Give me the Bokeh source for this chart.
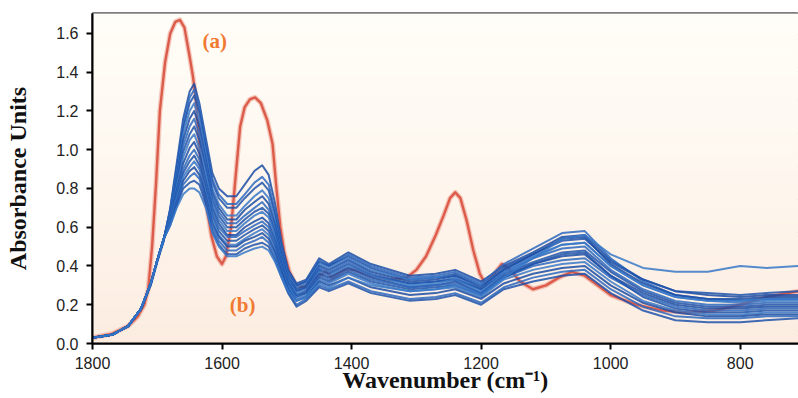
import numpy as np
from bokeh.plotting import figure
from bokeh.models import Range1d, FixedTicker, PrintfTickFormatter
from bokeh.core.properties import value
from bokeh.embed import file_html
from bokeh.resources import INLINE

# ---------------- data ----------------
wavenumber = [1800, 1770, 1745, 1725, 1710, 1700, 1690,
              1680, 1670, 1660, 1650, 1643,
              1635, 1625, 1615, 1605, 1592,
              1578, 1565, 1550, 1538, 1528,
              1518, 1508, 1498, 1485, 1470,
              1450, 1435, 1405, 1370, 1310,
              1270, 1240, 1200, 1165, 1120,
              1075, 1040, 1000, 950, 900,
              850, 800, 760, 710]

blue_spectra = [
    [0.03,0.045,0.09,0.18,0.30,0.42,0.53, 0.70,0.93,1.16,1.30,1.34, 1.24,1.06,0.88,0.80,0.76, 0.76,0.82,0.89,0.92,0.87, 0.72,0.52,0.38,0.31,0.33, 0.44,0.41,0.47,0.41,0.35, 0.36,0.38,0.32,0.40,0.47, 0.55,0.56,0.43,0.33,0.27, 0.25,0.24,0.25,0.25],
    [0.03,0.045,0.09,0.18,0.31,0.43,0.53, 0.69,0.91,1.13,1.27,1.31, 1.22,1.03,0.85,0.77,0.72, 0.72,0.77,0.83,0.86,0.82, 0.68,0.50,0.37,0.30,0.32, 0.43,0.40,0.46,0.40,0.34, 0.35,0.37,0.31,0.41,0.49, 0.57,0.58,0.44,0.32,0.25, 0.23,0.22,0.23,0.23],
    [0.03,0.045,0.09,0.18,0.31,0.43,0.54, 0.69,0.90,1.11,1.24,1.28, 1.19,1.01,0.83,0.75,0.70, 0.70,0.75,0.80,0.83,0.79, 0.66,0.48,0.36,0.30,0.32, 0.42,0.40,0.45,0.39,0.33, 0.34,0.36,0.30,0.39,0.46, 0.53,0.54,0.42,0.33,0.27, 0.26,0.25,0.26,0.27],
    [0.03,0.045,0.09,0.18,0.31,0.43,0.54, 0.68,0.88,1.08,1.20,1.24, 1.15,0.98,0.80,0.72,0.66, 0.66,0.71,0.76,0.79,0.75, 0.63,0.46,0.35,0.29,0.31, 0.41,0.39,0.44,0.38,0.33, 0.34,0.35,0.30,0.38,0.45, 0.51,0.52,0.40,0.30,0.24, 0.22,0.21,0.22,0.22],
    [0.03,0.045,0.09,0.18,0.31,0.43,0.54, 0.67,0.86,1.05,1.16,1.20, 1.12,0.95,0.78,0.70,0.64, 0.64,0.69,0.73,0.76,0.72, 0.61,0.45,0.34,0.28,0.30, 0.40,0.38,0.43,0.37,0.32, 0.33,0.35,0.29,0.38,0.46, 0.54,0.55,0.41,0.31,0.25, 0.23,0.23,0.24,0.24],
    [0.03,0.045,0.09,0.18,0.31,0.43,0.54, 0.67,0.85,1.02,1.12,1.16, 1.08,0.92,0.76,0.68,0.62, 0.62,0.66,0.70,0.73,0.69, 0.59,0.44,0.33,0.27,0.29, 0.39,0.37,0.42,0.36,0.31, 0.32,0.34,0.28,0.37,0.44, 0.49,0.50,0.38,0.28,0.22, 0.20,0.20,0.21,0.21],
    [0.03,0.045,0.09,0.18,0.31,0.43,0.54, 0.66,0.83,0.99,1.08,1.12, 1.05,0.90,0.74,0.66,0.60, 0.60,0.64,0.68,0.70,0.67, 0.57,0.43,0.32,0.27,0.29, 0.38,0.36,0.41,0.35,0.31, 0.32,0.33,0.28,0.36,0.42, 0.47,0.48,0.37,0.27,0.21, 0.19,0.19,0.20,0.20],
    [0.03,0.045,0.09,0.18,0.31,0.43,0.54, 0.65,0.81,0.96,1.05,1.08, 1.01,0.87,0.72,0.64,0.58, 0.58,0.62,0.66,0.68,0.65, 0.55,0.42,0.32,0.26,0.28, 0.37,0.35,0.40,0.35,0.30, 0.31,0.33,0.27,0.36,0.44, 0.51,0.52,0.40,0.30,0.24, 0.22,0.22,0.23,0.23],
    [0.03,0.045,0.09,0.18,0.31,0.43,0.54, 0.64,0.79,0.93,1.01,1.04, 0.98,0.84,0.70,0.62,0.56, 0.56,0.60,0.63,0.65,0.62, 0.53,0.41,0.31,0.25,0.27, 0.36,0.34,0.39,0.34,0.29, 0.30,0.32,0.26,0.35,0.41, 0.45,0.46,0.35,0.26,0.20, 0.18,0.18,0.19,0.19],
    [0.03,0.045,0.09,0.18,0.31,0.43,0.54, 0.64,0.77,0.90,0.97,1.00, 0.95,0.82,0.68,0.60,0.55, 0.55,0.58,0.61,0.63,0.60, 0.52,0.40,0.30,0.25,0.26, 0.35,0.33,0.38,0.33,0.29, 0.30,0.31,0.26,0.34,0.40, 0.43,0.44,0.34,0.25,0.19, 0.17,0.17,0.18,0.18],
    [0.03,0.045,0.09,0.18,0.31,0.43,0.54, 0.63,0.76,0.88,0.94,0.97, 0.92,0.80,0.66,0.58,0.53, 0.53,0.56,0.59,0.61,0.58, 0.50,0.39,0.29,0.24,0.26, 0.34,0.32,0.37,0.32,0.28, 0.29,0.30,0.25,0.34,0.41, 0.46,0.47,0.35,0.24,0.18, 0.16,0.16,0.17,0.17],
    [0.03,0.045,0.09,0.18,0.31,0.43,0.54, 0.63,0.75,0.86,0.91,0.94, 0.90,0.78,0.64,0.56,0.51, 0.51,0.54,0.57,0.59,0.56, 0.48,0.38,0.29,0.23,0.25, 0.33,0.31,0.36,0.31,0.27, 0.28,0.29,0.24,0.33,0.38, 0.41,0.42,0.32,0.22,0.17, 0.15,0.15,0.16,0.16],
    [0.03,0.045,0.09,0.18,0.31,0.43,0.54, 0.62,0.73,0.84,0.89,0.91, 0.87,0.76,0.62,0.55,0.50, 0.50,0.53,0.55,0.57,0.54, 0.47,0.37,0.28,0.22,0.24, 0.32,0.30,0.34,0.29,0.25, 0.26,0.28,0.23,0.31,0.36, 0.39,0.40,0.30,0.21,0.16, 0.14,0.14,0.15,0.15],
    [0.03,0.045,0.09,0.18,0.31,0.43,0.54, 0.62,0.72,0.82,0.86,0.88, 0.85,0.74,0.60,0.53,0.48, 0.48,0.51,0.53,0.55,0.52, 0.45,0.35,0.27,0.20,0.23, 0.30,0.28,0.32,0.27,0.23, 0.24,0.26,0.21,0.29,0.34, 0.37,0.38,0.28,0.19,0.14, 0.13,0.13,0.14,0.14],
    [0.03,0.045,0.09,0.18,0.31,0.43,0.54, 0.61,0.71,0.80,0.83,0.84, 0.82,0.72,0.58,0.51,0.46, 0.46,0.49,0.51,0.52,0.50, 0.43,0.34,0.26,0.19,0.22, 0.29,0.27,0.31,0.26,0.22, 0.23,0.25,0.20,0.28,0.32, 0.35,0.36,0.26,0.17,0.12, 0.11,0.11,0.12,0.13],
    [0.03,0.045,0.09,0.18,0.31,0.43,0.54, 0.61,0.70,0.77,0.80,0.80, 0.78,0.70,0.57,0.50,0.45, 0.45,0.47,0.49,0.50,0.48, 0.42,0.34,0.27,0.22,0.24, 0.31,0.29,0.34,0.30,0.27, 0.28,0.30,0.25,0.34,0.44, 0.54,0.56,0.46,0.39,0.37, 0.37,0.40,0.39,0.40],
]

red_wavenumber = [1800, 1770, 1745, 1730, 1720, 1714, 1708, 1702, 1696, 1688,
                  1680, 1672, 1665, 1658, 1650, 1645, 1640, 1634, 1626, 1616,
                  1608, 1600, 1594, 1586, 1578, 1572, 1565, 1557, 1549, 1540,
                  1530, 1522, 1516, 1510, 1504, 1496, 1486, 1472, 1455, 1440,
                  1430, 1410, 1395, 1370, 1340, 1315, 1300, 1285, 1270, 1258,
                  1248, 1240, 1232, 1222, 1212, 1202, 1194, 1182, 1168, 1155,
                  1140, 1120, 1100, 1080, 1060, 1040, 1020, 1000, 960, 920,
                  880, 840, 800, 760, 710]
red_absorbance = [0.03, 0.05, 0.09, 0.14, 0.20, 0.28, 0.50, 0.82, 1.20, 1.45,
                  1.60, 1.66, 1.67, 1.63, 1.48, 1.38, 1.25, 0.98, 0.75, 0.55,
                  0.45, 0.41, 0.45, 0.60, 0.90, 1.12, 1.22, 1.26, 1.27, 1.24,
                  1.15, 1.03, 0.80, 0.60, 0.47, 0.37, 0.30, 0.29, 0.34, 0.37,
                  0.34, 0.38, 0.38, 0.35, 0.33, 0.34, 0.38, 0.45, 0.56, 0.66,
                  0.75, 0.78, 0.75, 0.63, 0.48, 0.36, 0.31, 0.35, 0.41, 0.38,
                  0.32, 0.28, 0.30, 0.34, 0.37, 0.35, 0.30, 0.25, 0.20, 0.17,
                  0.16, 0.17, 0.20, 0.24, 0.27]

x_ticks = [1800, 1600, 1400, 1200, 1000, 800]
y_ticks = [0.0, 0.2, 0.4, 0.6, 0.8, 1.0, 1.2, 1.4, 1.6]

label_a = ("(a)", 1630, 1.56)
label_b = ("(b)", 1588, 0.20)
x_title = "Wavenumber (cm\u207b\u00b9)"
y_title = "Absorbance Units"

for s in blue_spectra:
    assert len(s) == len(wavenumber)
assert len(red_wavenumber) == len(red_absorbance)

# ---------------- figure ----------------
X_START, X_END = 1800, 710
Y_START, Y_END = 0.0, 1.703

p = figure(width=798, height=398, output_backend="svg", toolbar_location=None,
           x_range=Range1d(X_START, X_END), y_range=Range1d(Y_START, Y_END),
           min_border_left=92, min_border_right=0, min_border_top=13,
           min_border_bottom=55)
p.background_fill_color = "white"
p.border_fill_color = "white"
p.outline_line_color = "black"
p.outline_line_width = 2
p.grid.visible = False

# vertical background gradient (cream at top -> peach at bottom)
nb = 80
edges = np.linspace(Y_START, Y_END, nb + 1)
top_c = np.array([255, 253, 247])
bot_c = np.array([252, 236, 224])
cols = []
for i in range(nb):
    t = 1 - (i + 0.5) / nb
    t = t ** 1.3
    c = top_c + (bot_c - top_c) * t
    cols.append("#%02x%02x%02x" % tuple(int(round(v)) for v in c))
p.quad(left=[X_START] * nb, right=[X_END] * nb, bottom=edges[:-1], top=edges[1:],
       fill_color=cols, line_color=cols, line_width=1)

# red spectrum (a) - drawn beneath the blue bundle
p.line(red_wavenumber, red_absorbance, line_color="#e88a78", line_width=5,
       line_alpha=0.45, line_join="round")
p.line(red_wavenumber, red_absorbance, line_color="#d9503e", line_width=2.4,
       line_alpha=0.9, line_join="round")

# blue spectra (b)
blue_palette = ["#1a4ca4", "#2c68bf", "#1f53ac", "#3778c8"]
blue_cols = [blue_palette[i % 4] for i in range(len(blue_spectra))]
p.multi_line(xs=[wavenumber] * len(blue_spectra), ys=blue_spectra,
             line_color=blue_cols, line_width=2.0, line_alpha=0.85,
             line_join="round")

for txt, xx, yy in (label_a, label_b):
    p.text(x=[xx], y=[yy], text=[txt], text_font=value("Liberation Serif"),
           text_font_style="bold", text_font_size="21px", text_color="#f07a32",
           text_align="left", text_baseline="middle")

# axes
for ax in (p.xaxis[0], p.yaxis[0]):
    ax.axis_line_width = 2
    ax.axis_line_color = "black"
    ax.major_tick_line_width = 2
    ax.major_tick_line_color = "black"
    ax.major_tick_out = 6
    ax.major_tick_in = 0
    ax.minor_tick_line_color = None
    ax.major_label_text_font = "Liberation Sans"
    ax.major_label_text_font_size = "16px"
    ax.major_label_text_color = "#222222"
    ax.axis_label_text_font = "Liberation Serif"
    ax.axis_label_text_font_style = "bold"
    ax.axis_label_text_font_size = "24px"
    ax.axis_label_text_color = "#111111"

p.xaxis.ticker = FixedTicker(ticks=x_ticks)
p.yaxis.ticker = FixedTicker(ticks=y_ticks)
p.yaxis.formatter = PrintfTickFormatter(format="%.1f")
p.xaxis.formatter = PrintfTickFormatter(format="%d")
p.yaxis.major_label_standoff = 8
p.xaxis.major_label_standoff = 7
p.yaxis.axis_label = y_title
p.yaxis.axis_label_standoff = 22
p.xaxis.axis_label = x_title
p.xaxis.axis_label_standoff = -5

open("out.html", "w").write(file_html(p, INLINE))
